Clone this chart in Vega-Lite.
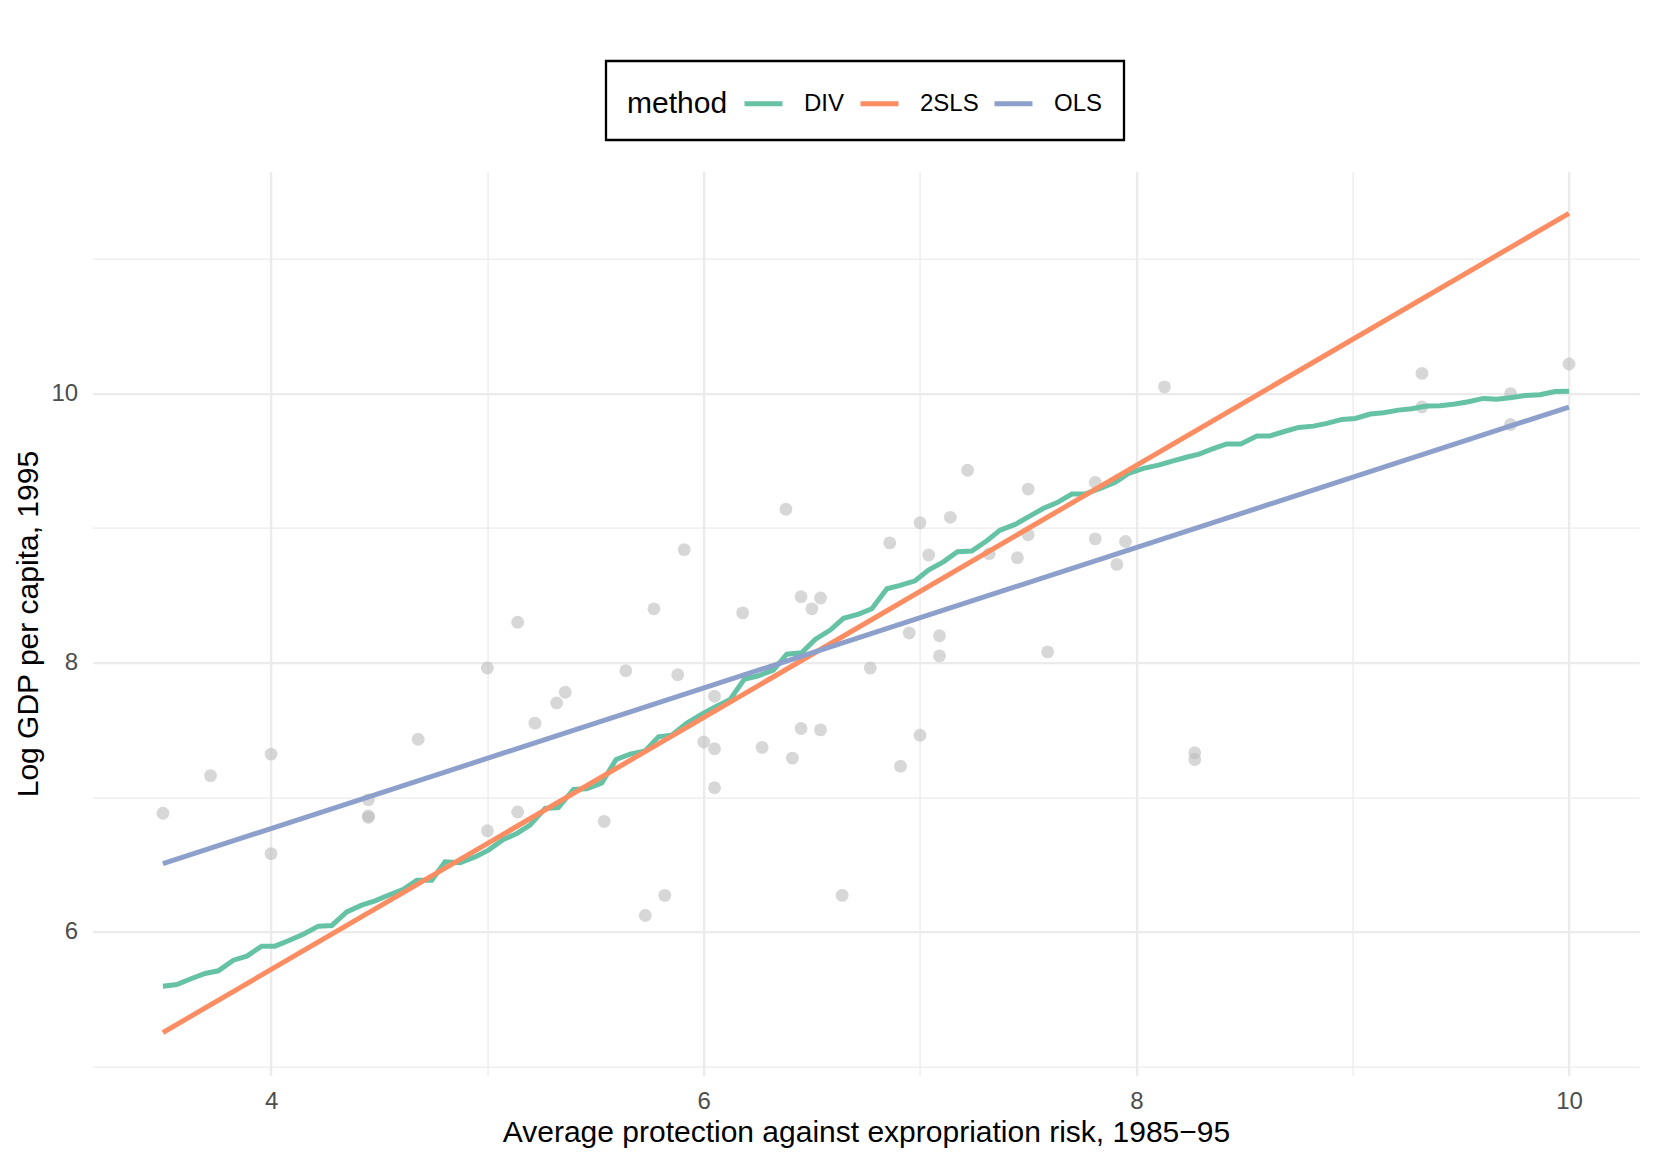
{
  "$schema": "https://vega.github.io/schema/vega-lite/v6.json",
  "width": 1546.7,
  "height": 904,
  "autosize": {"type": "none"},
  "padding": {"left": 92.6, "top": 171.6, "right": 13.7, "bottom": 88.4},
  "background": "white",
  "config": {
    "font": "Liberation Sans",
    "view": {"stroke": null}
  },
  "datasets": {
    "points": [
      {"x": 3.50, "y": 6.88}, {"x": 3.72, "y": 7.16}, {"x": 4.00, "y": 7.32}, {"x": 4.00, "y": 6.58},
      {"x": 4.45, "y": 6.98}, {"x": 4.45, "y": 6.85}, {"x": 4.45, "y": 6.86}, {"x": 4.68, "y": 7.43},
      {"x": 5.00, "y": 7.96}, {"x": 5.00, "y": 6.75}, {"x": 5.14, "y": 8.30}, {"x": 5.14, "y": 6.89},
      {"x": 5.22, "y": 7.55}, {"x": 5.32, "y": 7.70}, {"x": 5.36, "y": 7.78}, {"x": 5.54, "y": 6.82},
      {"x": 5.64, "y": 7.94}, {"x": 5.73, "y": 6.12}, {"x": 5.77, "y": 8.40}, {"x": 5.82, "y": 6.27},
      {"x": 5.88, "y": 7.91}, {"x": 5.91, "y": 8.84}, {"x": 6.00, "y": 7.41}, {"x": 6.05, "y": 7.75},
      {"x": 6.05, "y": 7.36}, {"x": 6.05, "y": 7.07}, {"x": 6.18, "y": 8.37}, {"x": 6.27, "y": 7.37},
      {"x": 6.38, "y": 9.14}, {"x": 6.41, "y": 7.29}, {"x": 6.45, "y": 8.49}, {"x": 6.45, "y": 7.51},
      {"x": 6.50, "y": 8.40}, {"x": 6.54, "y": 8.48}, {"x": 6.54, "y": 7.50}, {"x": 6.64, "y": 6.27},
      {"x": 6.77, "y": 7.96}, {"x": 6.86, "y": 8.89}, {"x": 6.91, "y": 7.23}, {"x": 6.95, "y": 8.22},
      {"x": 7.00, "y": 9.04}, {"x": 7.00, "y": 7.46}, {"x": 7.04, "y": 8.80}, {"x": 7.09, "y": 8.20},
      {"x": 7.09, "y": 8.05}, {"x": 7.14, "y": 9.08}, {"x": 7.22, "y": 9.43}, {"x": 7.32, "y": 8.81},
      {"x": 7.45, "y": 8.78}, {"x": 7.50, "y": 9.29}, {"x": 7.50, "y": 8.95}, {"x": 7.59, "y": 8.08},
      {"x": 7.81, "y": 9.34}, {"x": 7.81, "y": 8.92}, {"x": 7.91, "y": 8.73}, {"x": 7.95, "y": 8.90},
      {"x": 8.13, "y": 10.05}, {"x": 8.27, "y": 7.33}, {"x": 8.27, "y": 7.28}, {"x": 9.32, "y": 10.15},
      {"x": 9.32, "y": 9.90}, {"x": 9.73, "y": 10.00}, {"x": 9.73, "y": 9.77}, {"x": 10.00, "y": 10.22}
    ],
    "fits": [
      {"method": "DIV", "x": 3.500, "y": 5.595}, {"method": "DIV", "x": 3.564, "y": 5.607},
      {"method": "DIV", "x": 3.633, "y": 5.652}, {"method": "DIV", "x": 3.695, "y": 5.689},
      {"method": "DIV", "x": 3.756, "y": 5.709}, {"method": "DIV", "x": 3.826, "y": 5.788},
      {"method": "DIV", "x": 3.888, "y": 5.818}, {"method": "DIV", "x": 3.957, "y": 5.892},
      {"method": "DIV", "x": 4.018, "y": 5.892}, {"method": "DIV", "x": 4.080, "y": 5.932},
      {"method": "DIV", "x": 4.149, "y": 5.981}, {"method": "DIV", "x": 4.219, "y": 6.041},
      {"method": "DIV", "x": 4.281, "y": 6.046}, {"method": "DIV", "x": 4.350, "y": 6.147},
      {"method": "DIV", "x": 4.419, "y": 6.197}, {"method": "DIV", "x": 4.481, "y": 6.229},
      {"method": "DIV", "x": 4.542, "y": 6.271}, {"method": "DIV", "x": 4.612, "y": 6.314},
      {"method": "DIV", "x": 4.674, "y": 6.383}, {"method": "DIV", "x": 4.743, "y": 6.383},
      {"method": "DIV", "x": 4.804, "y": 6.519}, {"method": "DIV", "x": 4.874, "y": 6.512},
      {"method": "DIV", "x": 4.943, "y": 6.556}, {"method": "DIV", "x": 5.005, "y": 6.606},
      {"method": "DIV", "x": 5.074, "y": 6.685}, {"method": "DIV", "x": 5.136, "y": 6.730},
      {"method": "DIV", "x": 5.197, "y": 6.792}, {"method": "DIV", "x": 5.267, "y": 6.916},
      {"method": "DIV", "x": 5.328, "y": 6.923}, {"method": "DIV", "x": 5.398, "y": 7.057},
      {"method": "DIV", "x": 5.459, "y": 7.062}, {"method": "DIV", "x": 5.529, "y": 7.106},
      {"method": "DIV", "x": 5.595, "y": 7.280}, {"method": "DIV", "x": 5.660, "y": 7.320},
      {"method": "DIV", "x": 5.729, "y": 7.344}, {"method": "DIV", "x": 5.791, "y": 7.448},
      {"method": "DIV", "x": 5.852, "y": 7.461}, {"method": "DIV", "x": 5.921, "y": 7.548},
      {"method": "DIV", "x": 5.991, "y": 7.617}, {"method": "DIV", "x": 6.053, "y": 7.671},
      {"method": "DIV", "x": 6.122, "y": 7.726}, {"method": "DIV", "x": 6.187, "y": 7.875},
      {"method": "DIV", "x": 6.253, "y": 7.902}, {"method": "DIV", "x": 6.322, "y": 7.944},
      {"method": "DIV", "x": 6.384, "y": 8.063}, {"method": "DIV", "x": 6.453, "y": 8.073},
      {"method": "DIV", "x": 6.515, "y": 8.172}, {"method": "DIV", "x": 6.585, "y": 8.242},
      {"method": "DIV", "x": 6.646, "y": 8.329}, {"method": "DIV", "x": 6.716, "y": 8.361},
      {"method": "DIV", "x": 6.777, "y": 8.400}, {"method": "DIV", "x": 6.847, "y": 8.549},
      {"method": "DIV", "x": 6.908, "y": 8.574}, {"method": "DIV", "x": 6.977, "y": 8.608},
      {"method": "DIV", "x": 7.039, "y": 8.688}, {"method": "DIV", "x": 7.108, "y": 8.749},
      {"method": "DIV", "x": 7.173, "y": 8.824}, {"method": "DIV", "x": 7.239, "y": 8.829},
      {"method": "DIV", "x": 7.309, "y": 8.906}, {"method": "DIV", "x": 7.370, "y": 8.985},
      {"method": "DIV", "x": 7.440, "y": 9.027}, {"method": "DIV", "x": 7.501, "y": 9.084},
      {"method": "DIV", "x": 7.571, "y": 9.147}, {"method": "DIV", "x": 7.632, "y": 9.188},
      {"method": "DIV", "x": 7.702, "y": 9.253}, {"method": "DIV", "x": 7.763, "y": 9.253},
      {"method": "DIV", "x": 7.833, "y": 9.295}, {"method": "DIV", "x": 7.902, "y": 9.340},
      {"method": "DIV", "x": 7.964, "y": 9.407}, {"method": "DIV", "x": 8.033, "y": 9.444},
      {"method": "DIV", "x": 8.102, "y": 9.468}, {"method": "DIV", "x": 8.170, "y": 9.500},
      {"method": "DIV", "x": 8.240, "y": 9.530}, {"method": "DIV", "x": 8.290, "y": 9.550},
      {"method": "DIV", "x": 8.355, "y": 9.590}, {"method": "DIV", "x": 8.418, "y": 9.625},
      {"method": "DIV", "x": 8.483, "y": 9.625}, {"method": "DIV", "x": 8.557, "y": 9.684},
      {"method": "DIV", "x": 8.616, "y": 9.684}, {"method": "DIV", "x": 8.680, "y": 9.716},
      {"method": "DIV", "x": 8.750, "y": 9.748}, {"method": "DIV", "x": 8.819, "y": 9.758},
      {"method": "DIV", "x": 8.881, "y": 9.778}, {"method": "DIV", "x": 8.950, "y": 9.808},
      {"method": "DIV", "x": 9.012, "y": 9.815}, {"method": "DIV", "x": 9.081, "y": 9.848},
      {"method": "DIV", "x": 9.142, "y": 9.857}, {"method": "DIV", "x": 9.212, "y": 9.877},
      {"method": "DIV", "x": 9.273, "y": 9.887}, {"method": "DIV", "x": 9.342, "y": 9.907},
      {"method": "DIV", "x": 9.404, "y": 9.909}, {"method": "DIV", "x": 9.473, "y": 9.922},
      {"method": "DIV", "x": 9.535, "y": 9.939}, {"method": "DIV", "x": 9.604, "y": 9.964},
      {"method": "DIV", "x": 9.666, "y": 9.957}, {"method": "DIV", "x": 9.735, "y": 9.971},
      {"method": "DIV", "x": 9.797, "y": 9.986}, {"method": "DIV", "x": 9.866, "y": 9.991},
      {"method": "DIV", "x": 9.935, "y": 10.015}, {"method": "DIV", "x": 10.000, "y": 10.018},
      {"method": "2SLS", "x": 3.5, "y": 5.25}, {"method": "2SLS", "x": 10.0, "y": 11.34},
      {"method": "OLS", "x": 3.5, "y": 6.505}, {"method": "OLS", "x": 10.0, "y": 9.90}
    ]
  },
  "layer": [
    {
      "data": {"name": "points"},
      "mark": {"type": "circle", "size": 165, "color": "#BDBDBD", "opacity": 0.6},
      "encoding": {
        "x": {
          "field": "x", "type": "quantitative",
          "scale": {"domain": [3.175, 10.325], "nice": false, "zero": false},
          "axis": {
            "title": "Average protection against expropriation risk, 1985−95",
            "values": [4, 5, 6, 7, 8, 9, 10],
            "format": "d",
            "labelExpr": "datum.value % 2 === 0 ? datum.label : ''",
            "domain": false, "ticks": false, "grid": true,
            "gridColor": "#EBEBEB",
            "gridWidth": {"condition": {"test": "datum.value % 2 === 0", "value": 2.4}, "value": 1.3},
            "labelFontSize": 24, "labelColor": "#4D4D4D", "labelPadding": 14, "labelFlush": false,
            "titleFontSize": 30, "titleFontWeight": "normal", "titleColor": "black",
            "titleBaseline": "alphabetic", "titleY": 65.5
          }
        },
        "y": {
          "field": "y", "type": "quantitative",
          "scale": {"domain": [4.93, 11.65], "nice": false, "zero": false},
          "axis": {
            "title": "Log GDP per capita, 1995",
            "values": [5, 6, 7, 8, 9, 10, 11],
            "format": "d",
            "labelExpr": "datum.value % 2 === 0 ? datum.label : ''",
            "domain": false, "ticks": false, "grid": true,
            "gridColor": "#EBEBEB",
            "gridWidth": {"condition": {"test": "datum.value % 2 === 0", "value": 2.4}, "value": 1.3},
            "labelFontSize": 24, "labelColor": "#4D4D4D", "labelPadding": 15, "labelFlush": false,
            "titleFontSize": 30, "titleFontWeight": "normal", "titleColor": "black",
            "titleBaseline": "alphabetic", "titleX": -55
          }
        }
      }
    },
    {
      "data": {"name": "fits"},
      "mark": {"type": "line", "strokeWidth": 5},
      "encoding": {
        "x": {"field": "x", "type": "quantitative"},
        "y": {"field": "y", "type": "quantitative"},
        "color": {
          "field": "method", "type": "nominal",
          "scale": {"domain": ["DIV", "2SLS", "OLS"], "range": ["#66C2A5", "#FC8D62", "#8DA0CB"]},
          "legend": {
            "orient": "none", "legendX": 513.4, "legendY": -110.6,
            "direction": "horizontal",
            "title": "method", "titleOrient": "left", "titleFontSize": 30, "titleFontWeight": "normal",
            "titleColor": "black", "titleAnchor": "middle", "titleBaseline": "middle", "titlePadding": 14,
            "labelFontSize": 24, "labelColor": "black", "labelOffset": 19,
            "symbolType": "stroke", "symbolStrokeWidth": 5, "symbolSize": 1444,
            "columnPadding": 5, "padding": 21, "strokeColor": "black",
            "encode": {
              "legend": {"update": {"strokeWidth": {"value": 2.3}}},
              "title": {"update": {"dy": {"value": 5}}}
            }
          }
        }
      }
    }
  ]
}
